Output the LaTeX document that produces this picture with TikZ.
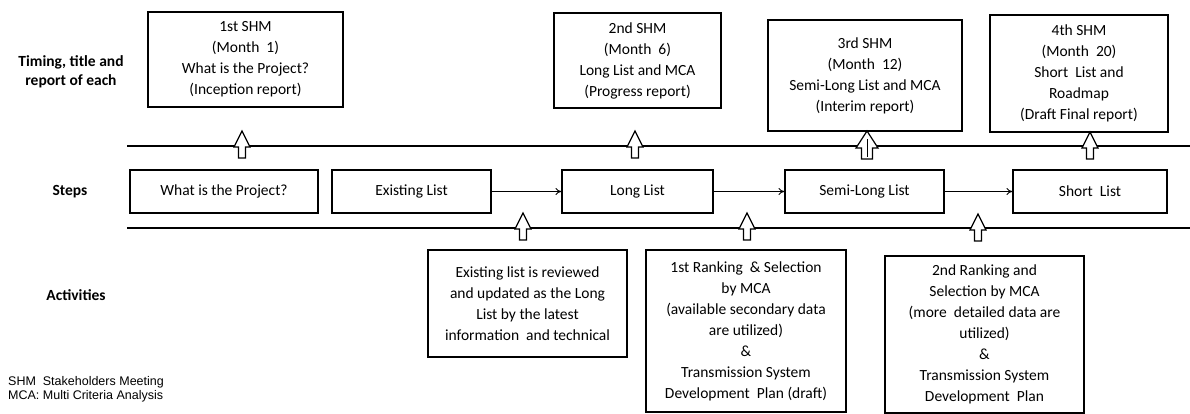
\documentclass[tikz,border=0pt]{standalone}
\usepackage{fontspec}
\setmainfont{Carlito}
\newfontfamily\legendfont{Liberation Sans}
\usetikzlibrary{arrows.meta}
\tikzset{
  x=1pt, y=-1pt,
  box/.style={draw, line width=1.1pt, align=center, inner sep=2pt,
    font=\fontsize{15.5}{21}\selectfont},
  rowlabel/.style={align=center, font=\bfseries\fontsize{15.5}{19}\selectfont},
  rule/.style={line width=1.8pt},
  flow/.style={line width=0.9pt, -{To[length=6pt,width=7pt]}},
  uparrow/.pic={\draw[line width=1.2pt, fill=white, line join=miter]
     (-3.5,0) -- (-3.5,-11) -- (-8,-11) -- (0,-27) -- (8,-11) -- (3.5,-11) -- (3.5,0) -- cycle;},
  widearrow/.pic={\draw[line width=1.2pt, fill=white, line join=miter]
     (-5.5,0) -- (-5.5,-11) -- (-11,-11) -- (0,-28) -- (11,-11) -- (5.5,-11) -- (5.5,0) -- cycle;
     \draw[line width=0.8pt] (0,-2) -- (0,-20);}
}
\begin{document}
\begin{tikzpicture}
\useasboundingbox (0,0) rectangle (1190,414);
\fill[white] (0,0) rectangle (1190,414);

% row labels
\node[rowlabel] (ltop) at (71,72) {Timing, title and\\report of each};
\node[rowlabel] (lsteps) at (70,191.5) {Steps};
\node[rowlabel] (lact) at (76,295) {Activities};

% horizontal rules
\coordinate (r1a) at (127,146); \coordinate (r1b) at (1190,146);
\coordinate (r2a) at (127,228); \coordinate (r2b) at (1190,228);
\draw[rule] (r1a) -- (r1b);
\draw[rule] (r2a) -- (r2b);

% top boxes
\node[box, minimum width=195, minimum height=95] (t1) at (245.5,59.5)
  {1st SHM\\(Month\ \ 1)\\What is the Project?\\(Inception report)};
\node[box, minimum width=167, minimum height=95] (t2) at (637.5,60.5)
  {2nd SHM\\(Month\ \ 6)\\Long List and MCA\\(Progress report)};
\node[box, minimum width=194, minimum height=111] (t3) at (865,75.5)
  {3rd SHM\\(Month\ \ 12)\\Semi-Long List and MCA\\(Interim report)};
\node[box, minimum width=178, minimum height=117] (t4) at (1079,73.5)
  {4th SHM\\(Month\ \ 20)\\Short\ \ List and\\Roadmap\\(Draft Final report)};

% step boxes
\node[box, minimum width=188, minimum height=43] (s1) at (224,191.5) {What is the Project?};
\node[box, minimum width=159, minimum height=43] (s2) at (411.5,191.5) {Existing List};
\node[box, minimum width=151, minimum height=43] (s3) at (637.5,191.5) {Long List};
\node[box, minimum width=159, minimum height=43] (s4) at (864.5,191.5) {Semi-Long List};
\node[box, minimum width=154, minimum height=43] (s5) at (1090,191.5) {Short\ \ List};

\draw[flow] (s2) -- (s3);
\draw[flow] (s3) -- (s4);
\draw[flow] (s4) -- (s5);

% activity boxes
\node[box, minimum width=199, minimum height=107] (a1) at (527.5,303.5)
  {Existing list is reviewed\\and updated as the Long\\List by the latest\\information\ \ and technical};
\node[box, minimum width=200, minimum height=162] (a2) at (746,331)
  {1st Ranking\ \ \& Selection\\by MCA\\(available secondary data\\are utilized)\\\&\\Transmission System\\Development\ \ Plan (draft)};
\node[box, minimum width=199, minimum height=157] (a3) at (984.5,334.5)
  {2nd Ranking and\\Selection by MCA\\(more\ \ detailed data are\\utilized)\\\&\\Transmission System\\Development\ \ Plan};

% hollow block arrows
\pic at (242,158) {uparrow};
\pic at (635,158) {uparrow};
\pic at (867,159) {widearrow};
\pic at (1090,159) {uparrow};
\pic at (523,240) {uparrow};
\pic at (747,240) {uparrow};
\pic at (978,241) {uparrow};

% legend
\node[anchor=west, align=left, inner sep=0pt,
  font=\legendfont\fontsize{12.5}{14}\selectfont] (legend) at (8,389.5)
  {SHM\ \ Stakeholders Meeting\\MCA:\ Multi Criteria Analysis};
\end{tikzpicture}
\end{document}
